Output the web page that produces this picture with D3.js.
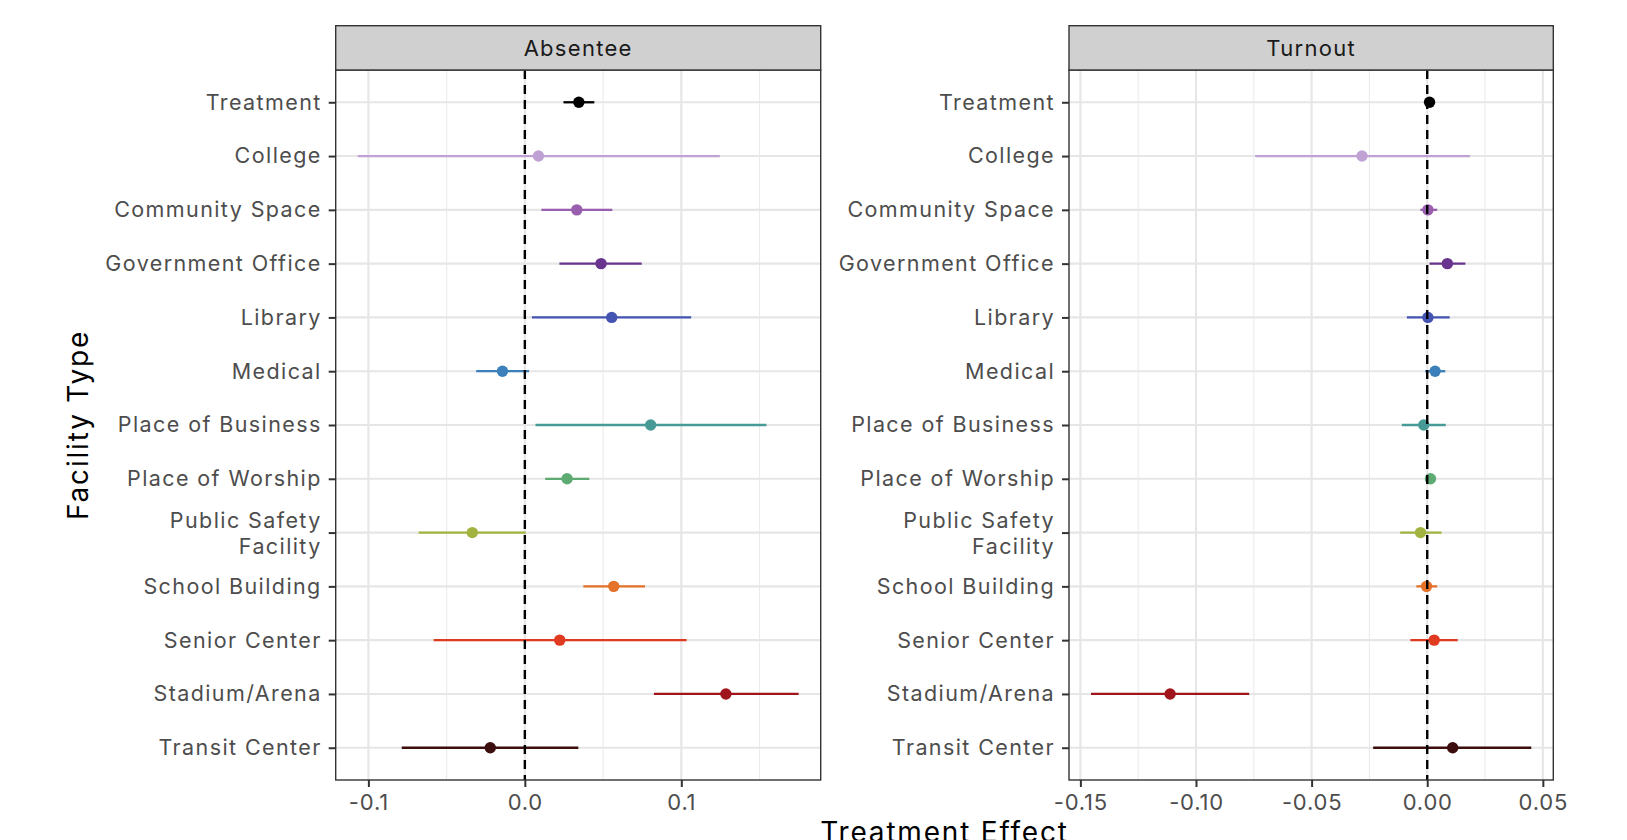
<!DOCTYPE html>
<html>
<head>
<meta charset="utf-8">
<script src="https://cdn.jsdelivr.net/npm/d3@7"></script>
<style>
  body { margin: 0; background: #ffffff; }
  text { font-family: "Inter", "Open Sans", sans-serif; }
</style>
</head>
<body>
<div id="chart-area"></div>
<script>
// facility categories, top to bottom
var facilities = ["Treatment", "College", "Community Space", "Government Office", "Library",
    "Medical", "Place of Business", "Place of Worship", "Public Safety\nFacility",
    "School Building", "Senior Center", "Stadium/Arena", "Transit Center"];

var facilityColors = ["#000000", "#bfa2d3", "#995eae", "#68348d", "#4354b2", "#3b80ba",
    "#489a97", "#5dab72", "#a2b43f", "#e47229", "#e03a20", "#a0141c", "#3d0e0e"];

// Absentee panel: estimate and interval
var absenteeEst = [0.0345, 0.0087, 0.0332, 0.0487, 0.0555, -0.0143, 0.0804, 0.0270, -0.0336, 0.0568, 0.0223, 0.1285, -0.0221];
var absenteeLo  = [0.0247, -0.1068, 0.0106, 0.0221, 0.0045, -0.0311, 0.0068, 0.0130, -0.0679, 0.0374, -0.0583, 0.0825, -0.0787];
var absenteeHi  = [0.0444, 0.1246, 0.0559, 0.0747, 0.1063, 0.0027, 0.1544, 0.0412, 0.0006, 0.0768, 0.1034, 0.1750, 0.0342];

// Turnout panel
var turnoutEst = [0.0010, -0.0282, 0.0003, 0.0087, 0.0003, 0.0034, -0.0015, 0.0014, -0.0029, -0.0003, 0.0030, -0.1112, 0.0110];
var turnoutLo  = [0.0000, -0.0744, -0.0030, 0.0010, -0.0088, -0.0009, -0.0110, -0.0007, -0.0117, -0.0047, -0.0073, -0.1454, -0.0234];
var turnoutHi  = [0.0020, 0.0185, 0.0043, 0.0165, 0.0097, 0.0078, 0.0080, 0.0036, 0.0062, 0.0043, 0.0132, -0.0770, 0.0450];

var absenteeTicks = [-0.1, 0, 0.1];
var absenteeTickLabels = ["-0.1", "0.0", "0.1"];
var absenteeMinor = [-0.05, 0.05, 0.15];

var turnoutTicks = [-0.15, -0.10, -0.05, 0, 0.05];
var turnoutTickLabels = ["-0.15", "-0.10", "-0.05", "0.00", "0.05"];
var turnoutMinor = [-0.125, -0.075, -0.025, 0.025];

var width = 1627, height = 840;
var panelTop = 70, panelBottom = 780, stripTop = 25.7;

var svg = d3.select("#chart-area")
    .append("svg")
        .attr("width", width)
        .attr("height", height);

var yScale = d3.scalePoint()
    .domain(facilities)
    .range([panelTop, panelBottom])
    .padding(0.6);

function drawPanel(title, left, right, est, lo, hi, ticks, tickLabels, minor) {
    var rows = facilities.map(function(f, i) {
        return { name: f, est: est[i], lo: lo[i], hi: hi[i], color: facilityColors[i] };
    });

    // ggplot style 5% expansion
    var mn = d3.min(lo), mx = d3.max(hi);
    var pad = (mx - mn) * 0.05;
    var xScale = d3.scaleLinear()
        .domain([mn - pad, mx + pad])
        .range([left, right]);

    var g = svg.append("g");

    // grid
    g.selectAll(".minor").data(minor).enter()
        .append("line")
        .attr("x1", function(d) { return xScale(d); })
        .attr("x2", function(d) { return xScale(d); })
        .attr("y1", panelTop).attr("y2", panelBottom)
        .attr("stroke", "#ebebeb")
        .attr("stroke-width", 1.1);

    g.selectAll(".major-x").data(ticks).enter()
        .append("line")
        .attr("x1", function(d) { return xScale(d); })
        .attr("x2", function(d) { return xScale(d); })
        .attr("y1", panelTop).attr("y2", panelBottom)
        .attr("stroke", "#e6e6e6")
        .attr("stroke-width", 2.1);

    g.selectAll(".major-y").data(facilities).enter()
        .append("line")
        .attr("x1", left).attr("x2", right)
        .attr("y1", function(d) { return yScale(d); })
        .attr("y2", function(d) { return yScale(d); })
        .attr("stroke", "#e6e6e6")
        .attr("stroke-width", 2.1);

    // intervals and points
    g.selectAll(".ci").data(rows).enter()
        .append("line")
        .attr("x1", function(d) { return xScale(d.lo); })
        .attr("x2", function(d) { return xScale(d.hi); })
        .attr("y1", function(d) { return yScale(d.name); })
        .attr("y2", function(d) { return yScale(d.name); })
        .attr("stroke", function(d) { return d.color; })
        .attr("stroke-width", 2.3);

    g.selectAll(".pt").data(rows).enter()
        .append("circle")
        .attr("cx", function(d) { return xScale(d.est); })
        .attr("cy", function(d) { return yScale(d.name); })
        .attr("r", 5.7)
        .attr("fill", function(d) { return d.color; });

    // zero line
    g.append("line")
        .attr("x1", xScale(0)).attr("x2", xScale(0))
        .attr("y1", panelTop).attr("y2", panelBottom)
        .attr("stroke", "#000")
        .attr("stroke-width", 2.4)
        .attr("stroke-dasharray", "9,6");

    // panel border
    g.append("rect")
        .attr("x", left).attr("y", panelTop)
        .attr("width", right - left).attr("height", panelBottom - panelTop)
        .attr("fill", "none")
        .attr("stroke", "#333")
        .attr("stroke-width", 1.4);

    // strip
    g.append("rect")
        .attr("x", left).attr("y", stripTop)
        .attr("width", right - left).attr("height", panelTop - stripTop)
        .attr("fill", "#d0d0d0")
        .attr("stroke", "#333")
        .attr("stroke-width", 1.4);
    g.append("text")
        .attr("x", (left + right) / 2)
        .attr("y", (stripTop + panelTop) / 2)
        .attr("dy", "0.36em")
        .attr("text-anchor", "middle")
        .attr("font-size", "22px")
        .attr("letter-spacing", "1.3px")
        .attr("fill", "#1a1a1a")
        .text(title);

    // axes
    var xAxis = g.append("g")
        .attr("transform", "translate(0," + panelBottom + ")")
        .call(d3.axisBottom(xScale)
            .tickValues(ticks)
            .tickFormat(function(d, i) { return tickLabels[i]; })
            .tickSize(7)
            .tickPadding(7));
    xAxis.select(".domain").remove();
    xAxis.selectAll("line").attr("stroke", "#333").attr("stroke-width", 2);
    xAxis.selectAll("text")
        .attr("font-size", "22px")
        .attr("letter-spacing", "0.8px")
        .attr("fill", "#4d4d4d")
        .style("font-family", "Inter, sans-serif");

    var yAxis = g.append("g")
        .attr("transform", "translate(" + left + ",0)")
        .call(d3.axisLeft(yScale).tickSize(7).tickPadding(7));
    yAxis.select(".domain").remove();
    yAxis.selectAll("line").attr("stroke", "#333").attr("stroke-width", 2);
    yAxis.selectAll("text")
        .attr("font-size", "21.5px")
        .attr("letter-spacing", "1.4px")
        .attr("fill", "#4d4d4d")
        .style("font-family", "Inter, sans-serif")
        .each(function(d) {
            var parts = d.split("\n");
            if (parts.length > 1) {
                var t = d3.select(this).text(null).attr("dy", null);
                parts.forEach(function(p, i) {
                    t.append("tspan")
                        .attr("x", -14)
                        .attr("dy", i == 0 ? "-0.22em" : "1.18em")
                        .text(p);
                });
            }
        });

    return xScale;
}

drawPanel("Absentee", 335.7, 820.7, absenteeEst, absenteeLo, absenteeHi,
    absenteeTicks, absenteeTickLabels, absenteeMinor);
drawPanel("Turnout", 1069, 1553.3, turnoutEst, turnoutLo, turnoutHi,
    turnoutTicks, turnoutTickLabels, turnoutMinor);

svg.append("text")
    .attr("transform", "translate(88," + ((panelTop + panelBottom) / 2) + ") rotate(-90)")
    .attr("text-anchor", "middle")
    .attr("font-size", "28px")
    .attr("letter-spacing", "1.8px")
    .attr("fill", "#000")
    .text("Facility Type");

svg.append("text")
    .attr("x", (335.7 + 1553.3) / 2)
    .attr("y", 842)
    .attr("text-anchor", "middle")
    .attr("font-size", "28px")
    .attr("letter-spacing", "1.8px")
    .attr("fill", "#000")
    .text("Treatment Effect");
</script>
</body>
</html>
